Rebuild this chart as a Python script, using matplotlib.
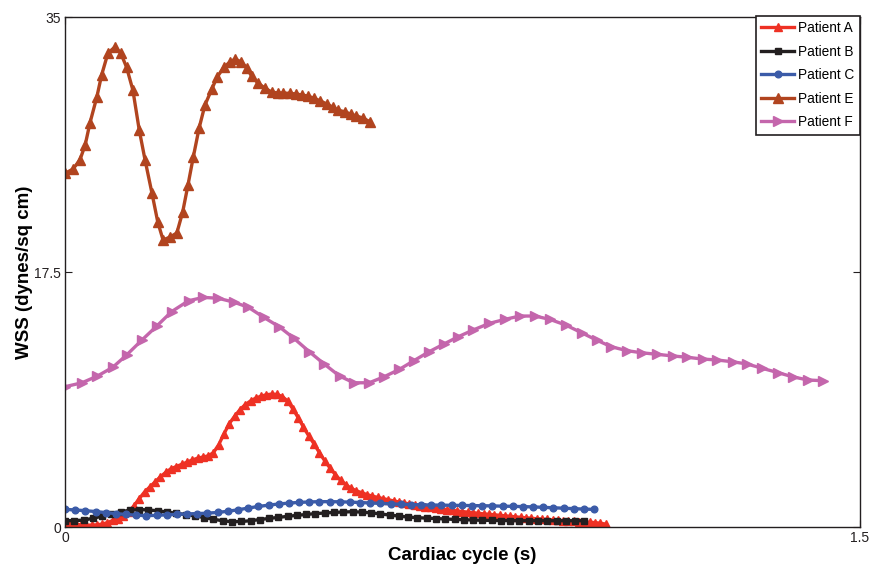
import numpy as np
import matplotlib
matplotlib.use("Agg")
import matplotlib.pyplot as plt

plt.rcParams['font.family'] = ['Liberation Sans', 'DejaVu Sans']

labels = ["Patient A", "Patient B", "Patient C", "Patient E", "Patient F"]

# Patient A (dt = 0.01 s)
a_dt = 0.01
a_y = [0.35, 0.28, 0.20, 0.15, 0.13, 0.13, 0.15, 0.20, 0.30, 0.45,
       0.55, 0.75, 1.05, 1.45, 1.95, 2.40, 2.75, 3.10, 3.45, 3.75,
       4.00, 4.15, 4.30, 4.45, 4.60, 4.72, 4.80, 4.88, 5.10, 5.65,
       6.40, 7.10, 7.60, 8.05, 8.40, 8.65, 8.85, 8.98, 9.08, 9.12,
       9.10, 8.95, 8.65, 8.10, 7.50, 6.85, 6.25, 5.70, 5.10, 4.55,
       4.05, 3.60, 3.20, 2.90, 2.65, 2.48, 2.35, 2.22, 2.12, 2.03,
       1.95, 1.87, 1.79, 1.72, 1.65, 1.58, 1.52, 1.46, 1.40, 1.35,
       1.30, 1.25, 1.20, 1.15, 1.10, 1.06, 1.02, 0.98, 0.94, 0.90,
       0.87, 0.84, 0.80, 0.77, 0.73, 0.70, 0.66, 0.63, 0.60, 0.57,
       0.54, 0.52, 0.49, 0.46, 0.44, 0.42, 0.40, 0.37, 0.35, 0.33,
       0.30, 0.26, 0.20]

# Patient B (dt = 0.0175 s)
b_dt = 0.0175
b_y = [0.43, 0.44, 0.47, 0.60, 0.74, 0.90, 1.05, 1.15, 1.20, 1.17,
       1.11, 1.03, 0.94, 0.85, 0.76, 0.65, 0.53, 0.43, 0.36, 0.38,
       0.43, 0.51, 0.59, 0.66, 0.73, 0.80, 0.86, 0.92, 0.96, 1.00,
       1.03, 1.05, 1.02, 0.97, 0.90, 0.82, 0.75, 0.68, 0.64, 0.61,
       0.58, 0.55, 0.52, 0.50, 0.48, 0.46, 0.45, 0.44, 0.44, 0.43,
       0.43, 0.43, 0.43, 0.43, 0.43, 0.43, 0.43]

# Patient C (dt = 0.0192 s)
c_dt = 0.0192
c_y = [1.21, 1.17, 1.12, 1.06, 0.99, 0.92, 0.86, 0.81, 0.78, 0.80,
       0.84, 0.87, 0.90, 0.92, 0.95, 1.00, 1.08, 1.18, 1.30, 1.41,
       1.50, 1.58, 1.64, 1.69, 1.72, 1.74, 1.74, 1.73, 1.71, 1.68,
       1.65, 1.62, 1.59, 1.56, 1.54, 1.52, 1.51, 1.50, 1.49, 1.48,
       1.47, 1.46, 1.45, 1.43, 1.42, 1.40, 1.38, 1.35, 1.32, 1.29,
       1.26, 1.23, 1.21]

# Patient E
e_x = [0.000, 0.015, 0.028, 0.038, 0.047, 0.060, 0.069, 0.081, 0.094, 0.105,
       0.116, 0.128, 0.140, 0.151, 0.164, 0.175, 0.185, 0.198, 0.211, 0.222,
       0.232, 0.242, 0.253, 0.264, 0.277, 0.287, 0.300, 0.311, 0.321, 0.333,
       0.343, 0.352, 0.364, 0.377, 0.390, 0.402, 0.411, 0.425, 0.436, 0.447,
       0.458, 0.470, 0.481, 0.494, 0.505, 0.515, 0.528, 0.539, 0.550, 0.562,
       0.575]
e_y = [24.27, 24.57, 25.19, 26.22, 27.73, 29.51, 31.02, 32.53, 32.94, 32.53,
       31.57, 29.99, 27.25, 25.19, 22.92, 20.93, 19.70, 19.90, 20.18, 21.62,
       23.47, 25.39, 27.38, 28.96, 30.06, 30.88, 31.57, 31.91, 32.12, 31.91,
       31.50, 30.95, 30.47, 30.13, 29.85, 29.79, 29.79, 29.76, 29.72, 29.65,
       29.58, 29.42, 29.26, 29.03, 28.82, 28.61, 28.50, 28.34, 28.21, 28.07,
       27.82]

# Patient F
f_x = [0.000, 0.032, 0.061, 0.090, 0.116, 0.145, 0.173, 0.201, 0.233, 0.261,
       0.289, 0.318, 0.346, 0.375, 0.404, 0.432, 0.461, 0.489, 0.518, 0.545,
       0.574, 0.602, 0.631, 0.658, 0.687, 0.715, 0.742, 0.770, 0.801, 0.830,
       0.858, 0.887, 0.915, 0.945, 0.975, 1.003, 1.031, 1.061, 1.088, 1.118,
       1.147, 1.174, 1.203, 1.231, 1.260, 1.287, 1.316, 1.346, 1.373, 1.402,
       1.431]
f_y = [9.63, 9.90, 10.36, 10.96, 11.80, 12.83, 13.79, 14.78, 15.53, 15.76,
       15.70, 15.44, 15.08, 14.39, 13.75, 12.95, 12.03, 11.19, 10.36, 9.90,
       9.90, 10.31, 10.82, 11.41, 12.03, 12.56, 13.06, 13.52, 13.98, 14.25,
       14.48, 14.48, 14.25, 13.86, 13.33, 12.83, 12.37, 12.10, 11.96, 11.85,
       11.74, 11.65, 11.53, 11.46, 11.34, 11.19, 10.89, 10.59, 10.31, 10.09,
       10.04]

x_ticks = [0, 1.5]
x_tick_labels = ["0", "1.5"]
y_ticks = [0, 17.5, 35]
y_tick_labels = ["0", "17.5", "35"]

a_x = np.arange(len(a_y)) * a_dt
b_x = np.arange(len(b_y)) * b_dt
c_x = np.arange(len(c_y)) * c_dt

fig = plt.figure(figsize=(8.73, 5.69), dpi=100)
ax = fig.add_axes([0.0745, 0.0738, 0.9105, 0.8962])

lw = 2.4
ax.plot(a_x, a_y, color="#ee3124", marker="^", markersize=5.5, lw=lw, label=labels[0])
ax.plot(b_x, b_y, color="#231f20", marker="s", markersize=4.2, lw=lw, label=labels[1])
ax.plot(c_x, c_y, color="#3b5ba8", marker="o", markersize=4.8, lw=lw, label=labels[2])
ax.plot(e_x, e_y, color="#b1441f", marker="^", markersize=6.5, lw=lw, label=labels[3])
ax.plot(f_x, f_y, color="#c466ac", marker=">", markersize=7, lw=lw, label=labels[4])

ax.set_xlim(0, 1.5)
ax.set_ylim(0, 35)
ax.set_xticks(x_ticks)
ax.set_xticklabels(x_tick_labels)
ax.set_yticks(y_ticks)
ax.set_yticklabels(y_tick_labels)
ax.tick_params(direction="in", top=True, right=True, labelsize=10, length=5,
               width=0.8, pad=3, colors="#231f20")
for s in ax.spines.values():
    s.set_linewidth(1.0)
    s.set_color("#231f20")

ax.set_xlabel("Cardiac cycle (s)", fontsize=13.5, fontweight="bold", labelpad=1)
ax.set_ylabel("WSS (dynes/sq cm)", fontsize=13.5, fontweight="bold", labelpad=0.5)

leg = ax.legend(loc="upper right", bbox_to_anchor=(1.0, 1.003), borderaxespad=0,
                fancybox=False, framealpha=1, edgecolor="#231f20", fontsize=9.8,
                handlelength=2.4, handletextpad=0.3, labelspacing=0.7,
                borderpad=0.4)
leg.get_frame().set_linewidth(1.2)

fig.savefig("out.png", dpi=100)
